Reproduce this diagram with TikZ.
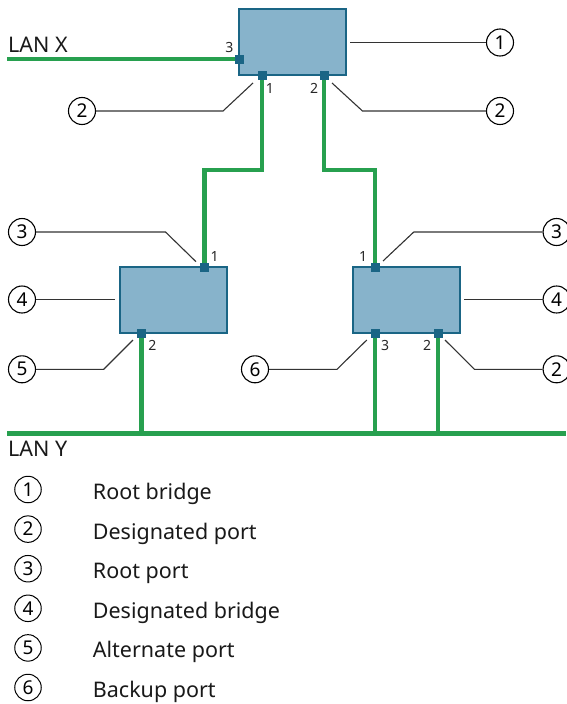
\documentclass[tikz,border=0pt]{standalone}
\usepackage{fontspec}
\setmainfont{Noto Sans}
\definecolor{langreen}{HTML}{27A04F}
\definecolor{boxfill}{HTML}{87B3CB}
\definecolor{boxedge}{HTML}{1A6585}
\definecolor{leadgray}{HTML}{333333}
\begin{document}
\begin{tikzpicture}[x=1pt,y=-1pt,
  bridgebox/.style={draw=boxedge, fill=boxfill, line width=2pt, inner sep=0pt, minimum width=107pt, minimum height=66pt},
  portsq/.style={fill=boxedge, minimum size=9pt, inner sep=0pt},
  lanline/.style={draw=langreen, line width=4.5pt},
  leaderline/.style={draw=leadgray, line width=1.1pt},
  numc/.style={circle, draw=black, line width=1.1pt, minimum size=27pt, inner sep=0pt, fill=white, font=\fontsize{19}{19}\selectfont},
  keyc/.style={circle, draw=black, line width=1pt, minimum size=26.5pt, inner sep=0pt, font=\fontsize{19}{19}\selectfont},
  portlbl/.style={font=\fontsize{14}{14}\selectfont, inner sep=0pt, text=black!85},
  lbl/.style={font=\fontsize{21.5}{21.5}\selectfont, inner sep=0pt, anchor=base west, text=black!90},
]
\useasboundingbox (0,0) rectangle (566,704);

% bridges
\node[bridgebox] (rb) at (292.5,42.3) {};
\node[bridgebox] (lb) at (173,300) {};
\node[bridgebox] (rtb) at (406,300) {};

% port positions
\coordinate (rp3) at (239,59);
\coordinate (rp1) at (262,75.3);
\coordinate (rp2) at (324,75.3);
\coordinate (lp1) at (204.5,267);
\coordinate (lp2) at (141.7,333);
\coordinate (bp1) at (375,267);
\coordinate (bp3) at (375,333);
\coordinate (bp2) at (438,333);

% LAN lines
\coordinate (lanxs) at (7,59);
\coordinate (lanys) at (7,433.3);
\coordinate (lanye) at (566,433.3);
\draw[lanline] (lanxs) -- (rp3);
\draw[lanline] (rp1) -- (262,170) -| (lp1);
\draw[lanline] (rp2) -- (324,170) -| (bp1);
\draw[lanline] (lanys) -- (lanye);
\draw[lanline] (lp2) -- (lp2 |- lanys);
\draw[lanline] (bp3) -- (bp3 |- lanys);
\draw[lanline] (bp2) -- (bp2 |- lanys);

% port squares
\foreach \p in {rp3,rp1,rp2,lp1,lp2,bp1,bp3,bp2}
  \node[portsq] (sq\p) at (\p) {};

% port labels
\node[portlbl] (l-rp3) at (229.5,47.3) {3};
\node[portlbl] (l-rp1) at (270,88.3) {1};
\node[portlbl] (l-rp2) at (314,88.3) {2};
\node[portlbl] (l-lp1) at (214.7,256) {1};
\node[portlbl] (l-lp2) at (152.5,345.7) {2};
\node[portlbl] (l-bp1) at (363,256) {1};
\node[portlbl] (l-bp3) at (385,345.7) {3};
\node[portlbl] (l-bp2) at (427,345.7) {2};

% LAN labels
\node[lbl] (lanx) at (8,52.3) {LAN X};
\node[lbl] (lany) at (8,456.7) {LAN Y};

% callouts
\node[numc] (c1) at (500,42.5) {1};
\node[numc] (c2a) at (82,111) {2};
\node[numc] (c2b) at (500,111) {2};
\node[numc] (c3a) at (22,232) {3};
\node[numc] (c4a) at (22,299.5) {4};
\node[numc] (c5a) at (22,369.3) {5};
\node[numc] (c3b) at (556.6,232) {3};
\node[numc] (c4b) at (556.6,299.5) {4};
\node[numc] (c6) at (255,369.3) {6};
\node[numc] (c2c) at (556.6,369.3) {2};

\coordinate (e1) at (350,42.5);
\coordinate (e2a) at (253,83);
\coordinate (e2b) at (332,83);
\coordinate (e3a) at (196,261.7);
\coordinate (e4a) at (115,299.5);
\coordinate (e5a) at (133,340);
\coordinate (e3b) at (383,261);
\coordinate (e4b) at (463.7,299.5);
\coordinate (e6) at (366.8,340);
\coordinate (e2c) at (445,340);

\draw[leaderline] (c1.west) -- (e1);
\draw[leaderline] (c2a.east) -- (223,111) -- (e2a);
\draw[leaderline] (c2b.west) -- (362.5,111) -- (e2b);
\draw[leaderline] (c3a.east) -- (165.5,232) -- (e3a);
\draw[leaderline] (c4a.east) -- (e4a);
\draw[leaderline] (c5a.east) -- (103.7,369.3) -- (e5a);
\draw[leaderline] (c3b.west) -- (413.8,232) -- (e3b);
\draw[leaderline] (c4b.west) -- (e4b);
\draw[leaderline] (c6.east) -- (337,369.3) -- (e6);
\draw[leaderline] (c2c.west) -- (474.5,369.3) -- (e2c);

% legend
\foreach \n/\t [count=\k from 0] in {1/Root bridge,2/Designated port,3/Root port,4/Designated bridge,5/Alternate port,6/Backup port}{
  \node[keyc] (k\n) at (28,489.5+39.6*\k) {\n};
  \node[lbl] (t\n) at (92.7,499.5+39.6*\k) {\t};
}
\end{tikzpicture}
\end{document}
